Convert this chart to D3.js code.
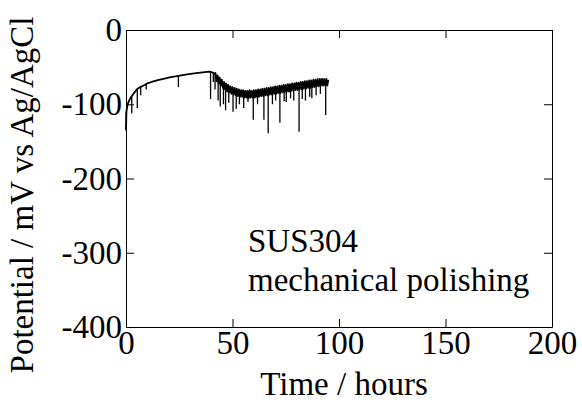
<!DOCTYPE html>
<html>
<head>
<meta charset="utf-8">
<script src="https://cdn.jsdelivr.net/npm/d3@7"></script>
</head>
<body style="margin:0; background:#fff">
<script>
// Axis setup
const X_DOMAIN = [0, 200];
const Y_DOMAIN = [-400, 0];
const X_TICKS = [0, 50, 100, 150, 200];
const Y_TICKS = [0, -100, -200, -300, -400];

const X_LABEL = "Time / hours";
const Y_LABEL = "Potential / mV vs Ag/AgCl";
const NOTE_LINES = ["SUS304", "mechanical polishing"];

// Potential trace [hours, mV]
// smooth rise before the transition
const rampData = [
    [0, -135], [0.2, -110], [0.5, -104], [1, -98], [1.5, -95], [2, -92], [3, -88], [4, -84],
    [5, -80], [6, -78], [8, -75], [10, -72], [12, -70], [15, -67.5], [18, -65.5], [21, -63.5],
    [24, -62], [28, -60], [32, -58.5], [36, -57], [39, -56], [40.5, -57], [41.5, -59]
];

// noisy band after the transition (upper / lower edge alternating)
const bandData = [
    [42.0, -58], [42.5, -69], [43.0, -61], [43.5, -72], [44.0, -64], [44.5, -75], [45.0, -67], [45.5, -78],
    [46.0, -70], [46.5, -80], [47.0, -72], [47.5, -83], [48.0, -74], [48.5, -84], [49.0, -76], [49.5, -86],
    [50.0, -77], [50.5, -87], [51.0, -78], [51.5, -88], [52.0, -79], [52.5, -89], [53.0, -80], [53.5, -90],
    [54.0, -81], [54.5, -90], [55.0, -81], [55.5, -91], [56.0, -82], [56.5, -91], [57.0, -82], [57.5, -92],
    [58.0, -81], [58.5, -91], [59.0, -82], [59.5, -91], [60.0, -81], [60.5, -91], [61.0, -81], [61.5, -90],
    [62.0, -80], [62.5, -90], [63.0, -80], [63.5, -89], [64.0, -79], [64.5, -89], [65.0, -79], [65.5, -88],
    [66.0, -78], [66.5, -88], [67.0, -78], [67.5, -87], [68.0, -77], [68.5, -87], [69.0, -77], [69.5, -86],
    [70.0, -76], [70.5, -86], [71.0, -76], [71.5, -85], [72.0, -75], [72.5, -85], [73.0, -75], [73.5, -84],
    [74.0, -74], [74.5, -84], [75.0, -74], [75.5, -83], [76.0, -73], [76.5, -83], [77.0, -73], [77.5, -82],
    [78.0, -72], [78.5, -82], [79.0, -72], [79.5, -81], [80.0, -71], [80.5, -81], [81.0, -71], [81.5, -80],
    [82.0, -70], [82.5, -80], [83.0, -70], [83.5, -79], [84.0, -69], [84.5, -79], [85.0, -69], [85.5, -78],
    [86.0, -68], [86.5, -78], [87.0, -68], [87.5, -77], [88.0, -67], [88.5, -77], [89.0, -67], [89.5, -76],
    [90.0, -66], [90.5, -76], [91.0, -66], [91.5, -75], [92.0, -66], [92.5, -75], [93.0, -66], [93.5, -75],
    [94.0, -66], [94.5, -75], [95.0, -67]
];

// downward spikes [hours, from mV, to mV]
const spikeData = [
    [0.1, -110, -135], [2.7, -89, -112], [5.3, -80, -105], [6.9, -77, -88], [9.5, -72, -80], [24.6, -62, -77],
    [39.7, -56, -93], [41.0, -58, -70], [41.8, -60, -80],
    [43.25, -66, -95], [44.25, -70, -103], [45.75, -74, -100], [46.75, -78, -108], [48.25, -80, -98],
    [50.25, -84, -110], [51.75, -86, -106], [53.25, -88, -100], [55.25, -88, -105], [57.25, -89, -97],
    [59.75, -89, -121], [61.75, -88, -100], [64.75, -87, -121], [66.75, -86, -139], [68.75, -84, -100],
    [70.25, -83, -95], [72.25, -82, -125], [74.25, -81, -96], [75.25, -80, -97], [77.25, -79, -92],
    [78.75, -78, -95], [81.25, -77, -137], [82.75, -76, -93], [84.25, -75, -95], [86.25, -74, -90],
    [87.25, -73, -92], [89.25, -72, -88], [91.25, -71, -86], [93.75, -71, -114.5]
];

const WIDTH = 582;
const HEIGHT = 403;
const margin = { top: 30, right: 30, bottom: 76, left: 126 };
const width = WIDTH - margin.left - margin.right;
const height = HEIGHT - margin.top - margin.bottom;
const TICK_LEN = 8;

// The serif face only gets picked at smaller sizes here, so text is set
// at BASE_SIZE and scaled up to look like FONT_SIZE.
const FONT_SIZE = 33;
const BASE_SIZE = 28;
const K = FONT_SIZE / BASE_SIZE;
const FONT = `"Liberation Serif", "Times New Roman", serif`;

const root = d3.select("body")
    .append("svg")
    .attr("width", WIDTH)
    .attr("height", HEIGHT);

const svg = root.append("g")
    .attr("transform", `translate(${margin.left}, ${margin.top})`);

const xScale = d3.scaleLinear().domain(X_DOMAIN).range([0, width]);
const yScale = d3.scaleLinear().domain(Y_DOMAIN).range([height, 0]);

// Axes, ticks pointing inward on all four sides
const styleAxis = g => {
    g.attr("font-family", null).attr("font-size", null);
    g.selectAll("path").attr("stroke", "#000").attr("stroke-width", 1);
    g.selectAll("line").attr("stroke", "#000").attr("stroke-width", 1);
    g.selectAll("text").each(function () {
        const t = d3.select(this);
        const x = +t.attr("x") || 0;
        const y = +t.attr("y") || 0;
        t.attr("x", 0).attr("y", 0)
            .attr("transform", `translate(${x},${y}) scale(${K})`)
            .attr("font-size", BASE_SIZE)
            .attr("fill", "#000")
            .style("font-family", FONT);
    });
};

svg.append("g")
    .attr("transform", `translate(0,${height})`)
    .call(d3.axisBottom(xScale).tickValues(X_TICKS).tickSize(-TICK_LEN).tickSizeOuter(0).tickPadding(4)
        .tickFormat(d => String(d)))
    .call(styleAxis);

svg.append("g")
    .call(d3.axisTop(xScale).tickValues(X_TICKS).tickSize(-TICK_LEN).tickSizeOuter(0).tickFormat(""))
    .call(styleAxis);

svg.append("g")
    .call(d3.axisLeft(yScale).tickValues(Y_TICKS).tickSize(-TICK_LEN).tickSizeOuter(0).tickPadding(4)
        .tickFormat(d => String(d))) // plain hyphen like the original
    .call(styleAxis);

svg.append("g")
    .attr("transform", `translate(${width},0)`)
    .call(d3.axisRight(yScale).tickValues(Y_TICKS).tickSize(-TICK_LEN).tickSizeOuter(0).tickFormat(""))
    .call(styleAxis);

// Potential trace: ramp followed by the noisy band
const line = d3.line()
    .x(d => xScale(d[0]))
    .y(d => yScale(d[1]));

svg.append("path")
    .datum(rampData.concat(bandData))
    .attr("fill", "none")
    .attr("stroke", "#000")
    .attr("stroke-width", 1.8)
    .attr("stroke-linejoin", "round")
    .attr("d", line);

svg.selectAll(".spike")
    .data(spikeData)
    .join("line")
    .attr("class", "spike")
    .attr("x1", d => xScale(d[0]))
    .attr("x2", d => xScale(d[0]))
    .attr("y1", d => yScale(d[1]))
    .attr("y2", d => yScale(d[2]))
    .attr("stroke", "#000")
    .attr("stroke-width", 1.3);

// helper for scaled serif text
const addText = (transform, str, anchor) => svg.append("text")
    .attr("transform", `${transform} scale(${K})`)
    .attr("text-anchor", anchor)
    .attr("font-size", BASE_SIZE)
    .style("font-family", FONT)
    .text(str);

// Annotation
NOTE_LINES.forEach((s, i) => addText(`translate(122,${222 + i * 39})`, s, "start"));

// Axis labels
addText(`translate(218,${height + 68})`, X_LABEL, "middle");
addText(`translate(-93,165) rotate(-90)`, Y_LABEL, "middle"); // reads bottom to top
</script>
</body>
</html>
